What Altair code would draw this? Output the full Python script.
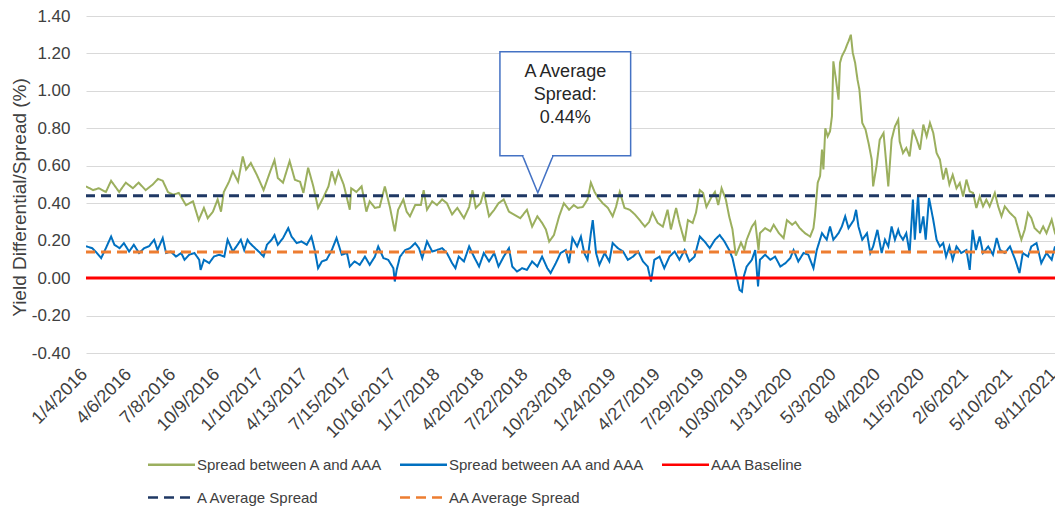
import altair as alt
import pandas as pd

FONT = "Liberation Sans"
START = "2016-01-04"
END = "2021-08-11"

series_names = ["Spread between A and AAA", "Spread between AA and AAA", "AAA Baseline",
                "A Average Spread", "AA Average Spread"]
series_colors = ["#9BAF5E", "#0070C0", "#FF0000", "#1F3864", "#ED7D31"]
series_dash = [[1, 0], [1, 0], [1, 0], [10, 6], [10, 6]]

tick_labels = ["1/4/2016", "4/6/2016", "7/8/2016", "10/9/2016", "1/10/2017", "4/13/2017",
               "7/15/2017", "10/16/2017", "1/17/2018", "4/20/2018", "7/22/2018", "10/23/2018",
               "1/24/2019", "4/27/2019", "7/29/2019", "10/30/2019", "1/31/2020", "5/3/2020",
               "8/4/2020", "11/5/2020", "2/6/2021", "5/10/2021", "8/11/2021"]

y_ticks = [-0.4, -0.2, 0.0, 0.2, 0.4, 0.6, 0.8, 1.0, 1.2, 1.4]

# days after 1/4/2016 and values
green_days = [0, 15, 27, 42, 53, 70, 84, 99, 111, 126, 141, 152, 162, 173, 184, 196, 211, 226,
              238, 249, 257, 268, 278, 285, 291, 302, 310, 321, 331, 338, 348, 361, 375, 389,
              398, 405, 416, 430, 441, 452, 459, 469, 480, 490, 501, 512, 519, 526, 533, 544,
              557, 560, 571, 582, 592, 599, 610, 620, 631, 642, 652, 659, 670, 677, 684, 695,
              707, 713, 720, 731, 741, 752, 762, 773, 784, 798, 809, 816, 823, 833, 840, 851,
              862, 871, 882, 893, 903, 917, 931, 942, 953, 963, 971, 978, 988, 999, 1009, 1020,
              1030, 1038, 1049, 1059, 1066, 1074, 1081, 1091, 1102, 1112, 1119, 1127, 1137,
              1148, 1159, 1169, 1180, 1189, 1196, 1207, 1218, 1228, 1235, 1246, 1253, 1264,
              1271, 1281, 1288, 1296, 1303, 1310, 1320, 1328, 1335, 1342, 1351, 1358, 1365,
              1372, 1383, 1390, 1395, 1406, 1413, 1420, 1423, 1434, 1445, 1452, 1463, 1473,
              1480, 1491, 1498, 1507, 1518, 1529, 1536, 1539, 1545, 1550, 1554, 1557, 1561,
              1566, 1571, 1575, 1578, 1583, 1589, 1592, 1596, 1603, 1607, 1610, 1615, 1619,
              1624, 1629, 1633, 1639, 1646, 1653, 1659, 1662, 1669, 1676, 1684, 1689, 1694,
              1701, 1708, 1715, 1718, 1725, 1732, 1739, 1746, 1754, 1761, 1768, 1775, 1782,
              1789, 1796, 1803, 1810, 1816, 1823, 1830, 1838, 1845, 1852, 1859, 1866, 1873,
              1880, 1887, 1894, 1901, 1908, 1919, 1926, 1933, 1940, 1951, 1962, 1969, 1975,
              1982, 1989, 1996, 2003, 2014, 2021, 2028, 2039, 2046, 2053, 2060]
green_vals = [0.49, 0.47, 0.48, 0.46, 0.52, 0.46, 0.51, 0.48, 0.51, 0.47, 0.50, 0.53, 0.52, 0.46,
              0.445, 0.455, 0.39, 0.41, 0.31, 0.375, 0.32, 0.355, 0.42, 0.355, 0.46, 0.515, 0.57,
              0.515, 0.65, 0.58, 0.615, 0.55, 0.47, 0.57, 0.63, 0.535, 0.51, 0.625, 0.525, 0.515,
              0.455, 0.59, 0.49, 0.375, 0.43, 0.49, 0.57, 0.51, 0.57, 0.50, 0.365, 0.48, 0.46,
              0.49, 0.355, 0.41, 0.375, 0.38, 0.49, 0.375, 0.25, 0.365, 0.42, 0.355, 0.33, 0.39,
              0.39, 0.47, 0.365, 0.41, 0.39, 0.42, 0.40, 0.34, 0.375, 0.32, 0.38, 0.47, 0.375,
              0.40, 0.46, 0.33, 0.365, 0.40, 0.42, 0.355, 0.34, 0.32, 0.365, 0.275, 0.33, 0.295,
              0.26, 0.195, 0.23, 0.33, 0.40, 0.365, 0.39, 0.375, 0.38, 0.42, 0.51, 0.46, 0.43,
              0.40, 0.375, 0.33, 0.38, 0.46, 0.375, 0.365, 0.34, 0.31, 0.275, 0.30, 0.35, 0.295,
              0.275, 0.365, 0.26, 0.375, 0.295, 0.195, 0.31, 0.295, 0.35, 0.47, 0.455, 0.38,
              0.43, 0.46, 0.39, 0.48, 0.42, 0.33, 0.26, 0.12, 0.19, 0.15, 0.205, 0.275, 0.30,
              0.15, 0.24, 0.267, 0.25, 0.285, 0.24, 0.214, 0.31, 0.285, 0.30, 0.267, 0.24, 0.222,
              0.267, 0.33, 0.51, 0.545, 0.686, 0.58, 0.80, 0.757, 0.784, 0.864, 1.158, 1.07,
              0.953, 1.15, 1.185, 1.22, 1.247, 1.265, 1.30, 1.203, 1.15, 1.06, 1.007, 0.829,
              0.793, 0.713, 0.633, 0.49, 0.597, 0.74, 0.775, 0.633, 0.49, 0.74, 0.81, 0.846,
              0.73, 0.668, 0.695, 0.65, 0.793, 0.74, 0.686, 0.82, 0.757, 0.829, 0.775, 0.668,
              0.633, 0.526, 0.588, 0.50, 0.552, 0.48, 0.508, 0.436, 0.526, 0.463, 0.455, 0.374,
              0.436, 0.383, 0.419, 0.383, 0.455, 0.383, 0.33, 0.383, 0.348, 0.321, 0.258, 0.205,
              0.258, 0.348, 0.321, 0.267, 0.24, 0.276, 0.24, 0.312, 0.24, 0.205, 0.276]

blue_days = [0, 13, 21, 32, 42, 53, 60, 71, 80, 91, 101, 112, 123, 133, 144, 151, 162, 169, 179,
             190, 201, 208, 218, 229, 239, 242, 249, 260, 270, 281, 292, 299, 310, 320, 327, 334,
             341, 346, 357, 368, 375, 382, 392, 398, 405, 416, 427, 434, 445, 455, 466, 476, 483,
             490, 498, 508, 519, 529, 540, 551, 557, 567, 578, 589, 599, 610, 617, 628, 638, 649,
             652, 656, 663, 674, 684, 695, 703, 710, 720, 731, 741, 752, 762, 773, 780, 787, 798,
             809, 819, 830, 840, 851, 862, 871, 882, 893, 900, 910, 921, 931, 942, 953, 963, 974,
             981, 992, 1002, 1013, 1020, 1027, 1037, 1045, 1052, 1059, 1066, 1070, 1077, 1084,
             1095, 1105, 1112, 1123, 1134, 1144, 1155, 1166, 1176, 1186, 1193, 1200, 1211, 1221,
             1232, 1243, 1253, 1264, 1274, 1285, 1296, 1306, 1317, 1328, 1338, 1348, 1358, 1365,
             1372, 1380, 1385, 1389, 1395, 1406, 1413, 1419, 1423, 1434, 1445, 1455, 1466, 1477,
             1487, 1494, 1504, 1515, 1525, 1536, 1543, 1554, 1564, 1571, 1578, 1589, 1596, 1603,
             1610, 1621, 1626, 1631, 1639, 1649, 1656, 1662, 1671, 1680, 1687, 1694, 1701, 1708,
             1715, 1718, 1725, 1732, 1739, 1746, 1750, 1757, 1761, 1768, 1773, 1780, 1789, 1796,
             1803, 1810, 1816, 1823, 1830, 1838, 1848, 1859, 1866, 1872, 1879, 1887, 1894, 1905,
             1915, 1923, 1930, 1940, 1951, 1962, 1971, 1978, 1989, 1996, 2007, 2017, 2028, 2039,
             2046, 2053, 2060]
blue_vals = [0.17, 0.16, 0.14, 0.107, 0.16, 0.222, 0.178, 0.16, 0.187, 0.142, 0.178, 0.134, 0.16,
             0.17, 0.205, 0.15, 0.214, 0.134, 0.142, 0.115, 0.134, 0.098, 0.125, 0.134, 0.098,
             0.044, 0.098, 0.08, 0.115, 0.125, 0.115, 0.205, 0.142, 0.178, 0.205, 0.15, 0.205,
             0.187, 0.16, 0.134, 0.115, 0.178, 0.205, 0.23, 0.178, 0.214, 0.267, 0.222, 0.187,
             0.196, 0.178, 0.222, 0.15, 0.053, 0.089, 0.098, 0.15, 0.214, 0.125, 0.134, 0.062,
             0.089, 0.071, 0.115, 0.071, 0.115, 0.169, 0.107, 0.098, 0.053, -0.018, 0.044, 0.115,
             0.15, 0.16, 0.187, 0.16, 0.107, 0.196, 0.142, 0.15, 0.16, 0.134, 0.08, 0.053, 0.115,
             0.089, 0.169, 0.115, 0.062, 0.134, 0.089, 0.134, 0.062, 0.115, 0.16, 0.062, 0.035,
             0.053, 0.044, 0.089, 0.062, 0.115, 0.053, 0.027, 0.08, 0.134, 0.15, 0.08, 0.214,
             0.169, 0.222, 0.134, 0.098, 0.24, 0.31, 0.134, 0.071, 0.134, 0.089, 0.187, 0.16,
             0.142, 0.098, 0.115, 0.142, 0.089, 0.062, -0.018, 0.098, 0.115, 0.053, 0.115, 0.142,
             0.098, 0.15, 0.089, 0.115, 0.222, 0.196, 0.16, 0.205, 0.23, 0.196, 0.15, 0.107,
             0.027, -0.063, -0.072, 0.01, 0.062, 0.098, 0.15, -0.045, 0.098, 0.125, 0.098, 0.115,
             0.062, 0.08, 0.107, 0.15, 0.089, 0.134, 0.125, 0.053, 0.15, 0.24, 0.205, 0.276,
             0.205, 0.24, 0.276, 0.33, 0.267, 0.31, 0.365, 0.276, 0.205, 0.24, 0.134, 0.169,
             0.258, 0.134, 0.205, 0.169, 0.276, 0.205, 0.258, 0.232, 0.205, 0.24, 0.134, 0.419,
             0.205, 0.445, 0.24, 0.33, 0.205, 0.428, 0.31, 0.205, 0.169, 0.187, 0.115, 0.169,
             0.098, 0.169, 0.134, 0.15, 0.044, 0.258, 0.15, 0.222, 0.134, 0.169, 0.125, 0.214,
             0.15, 0.134, 0.169, 0.098, 0.027, 0.134, 0.115, 0.169, 0.187, 0.08, 0.134, 0.098,
             0.169, 0.062, 0.134]

ref_names = ["AAA Baseline", "A Average Spread", "AA Average Spread"]
ref_levels = [0.0, 0.44, 0.14]

callout_lines = ["A Average", "Spread:", "0.44%"]
callout_line_vals = [1.099, 0.979, 0.856]
callout_text_day = 1012
callout_box_days = [874, 1150]
callout_box_vals = [0.653, 1.209]
pointer_days = [922, 954, 986]
pointer_vals = [0.653, 0.456, 0.653]

start = pd.Timestamp(START)


def to_date(d):
    return (start + pd.Timedelta(days=d)).strftime("%Y-%m-%d")


def ms(ts):
    return int(pd.Timestamp(ts).tz_localize("UTC").timestamp() * 1000)


green_df = pd.DataFrame({"date": [to_date(d) for d in green_days], "value": green_vals,
                         "series": series_names[0]})
blue_df = pd.DataFrame({"date": [to_date(d) for d in blue_days], "value": blue_vals,
                        "series": series_names[1]})
ref_df = pd.DataFrame({"value": ref_levels, "series": ref_names})

tick_ms = [ms(pd.to_datetime(t, format="%m/%d/%Y")) for t in tick_labels]

x_scale = alt.Scale(type="utc", domain=[ms(START), ms(END)])
y_scale = alt.Scale(domain=[-0.4, 1.4], nice=False, zero=False)

color_enc = alt.Color("series:N", scale=alt.Scale(domain=series_names, range=series_colors),
                      title=None,
                      legend=alt.Legend(orient="none", legendX=78, legendY=441, columns=3,
                                        direction="horizontal", padding=0,
                                        symbolType="M-4,0H4", symbolSize=138,
                                        symbolStrokeWidth=2.5, labelFontSize=15, labelFont=FONT,
                                        labelColor="#404040", columnPadding=11, rowPadding=17,
                                        labelOffset=18, labelLimit=400))
dash_enc = alt.StrokeDash("series:N", scale=alt.Scale(domain=series_names, range=series_dash),
                          title=None)

x_axis = alt.Axis(values=tick_ms, labelExpr="utcFormat(datum.value, '%-m/%-d/%Y')",
                  labelAngle=-45, labelFontSize=18, labelFont=FONT,
                  labelColor="#404040", ticks=False, domain=False, grid=False,
                  labelPadding=12, labelOffset=-8, labelOverlap=False,
                  labelBound=False, labelFlush=False)
y_axis = alt.Axis(values=y_ticks, tickCount=10,
                  labelExpr="(datum.value < 0 ? '-' : '') + format(abs(datum.value), '.2f')",
                  labelFontSize=17, labelFont=FONT, labelColor="#404040",
                  labelOverlap=False, labelBound=False, labelFlush=False,
                  titleFont=FONT, titleFontSize=19, titleFontWeight="normal",
                  titleColor="#404040", titleX=-67, titleY=181,
                  titleBaseline="middle", titleAngle=270,
                  ticks=False, domain=False, labelPadding=16,
                  grid=True, gridColor="#D9D9D9", gridWidth=1)
Y_TITLE = "Yield Differential/Spread (%)"


def xe(field="date"):
    return alt.X(f"{field}:T", scale=x_scale, title=None, axis=x_axis)


def ye(field="value"):
    return alt.Y(f"{field}:Q", scale=y_scale, title=Y_TITLE, axis=y_axis)


green = alt.Chart(green_df).mark_line(strokeWidth=2, clip=True).encode(
    x=xe(), y=ye(), color=color_enc, strokeDash=dash_enc)
blue = alt.Chart(blue_df).mark_line(strokeWidth=2, clip=True).encode(
    x=xe(), y=ye(), color=color_enc, strokeDash=dash_enc)
refs = alt.Chart(ref_df).mark_rule(strokeWidth=3).encode(
    y=ye(), color=color_enc, strokeDash=dash_enc)

box_df = pd.DataFrame({"date": [to_date(callout_box_days[0])],
                       "date2": [to_date(callout_box_days[1])],
                       "value": [callout_box_vals[0]], "value2": [callout_box_vals[1]]})
box = alt.Chart(box_df).mark_rect(fill="white", stroke="#4472C4", strokeWidth=1.5).encode(
    x=xe(), x2="date2:T", y=ye(), y2="value2:Q")

pointer_df = pd.DataFrame({"date": [to_date(d) for d in pointer_days], "value": pointer_vals,
                           "order": [0, 1, 2]})
pointer = alt.Chart(pointer_df).mark_line(color="#4472C4", strokeWidth=1.5).encode(
    x=xe(), y=ye(), order="order:Q")
gap_df = pd.DataFrame({"date": [to_date(pointer_days[0] + 2)],
                       "date2": [to_date(pointer_days[2] - 2)],
                       "value": [pointer_vals[0]]})
gap = alt.Chart(gap_df).mark_rule(color="white", strokeWidth=3).encode(
    x=xe(), x2="date2:T", y=ye())

text_df = pd.DataFrame({"date": [to_date(callout_text_day)] * 3, "value": callout_line_vals,
                        "label": callout_lines})
texts = alt.Chart(text_df).mark_text(font=FONT, fontSize=18, color="#262626", align="center",
                                     baseline="middle").encode(
    x=xe(), y=ye(), text="label:N")

chart = alt.layer(green, blue, refs, box, pointer, gap, texts).resolve_scale(
    color="shared", strokeDash="shared"
).properties(
    width=969, height=337,
    autosize=alt.AutoSizeParams(type="none"),
    padding={"left": 78, "top": 8, "right": 0, "bottom": 155},
    background="white",
).configure_view(stroke=None)

chart.save("out.html", embed_options={"renderer": "svg", "actions": False})
